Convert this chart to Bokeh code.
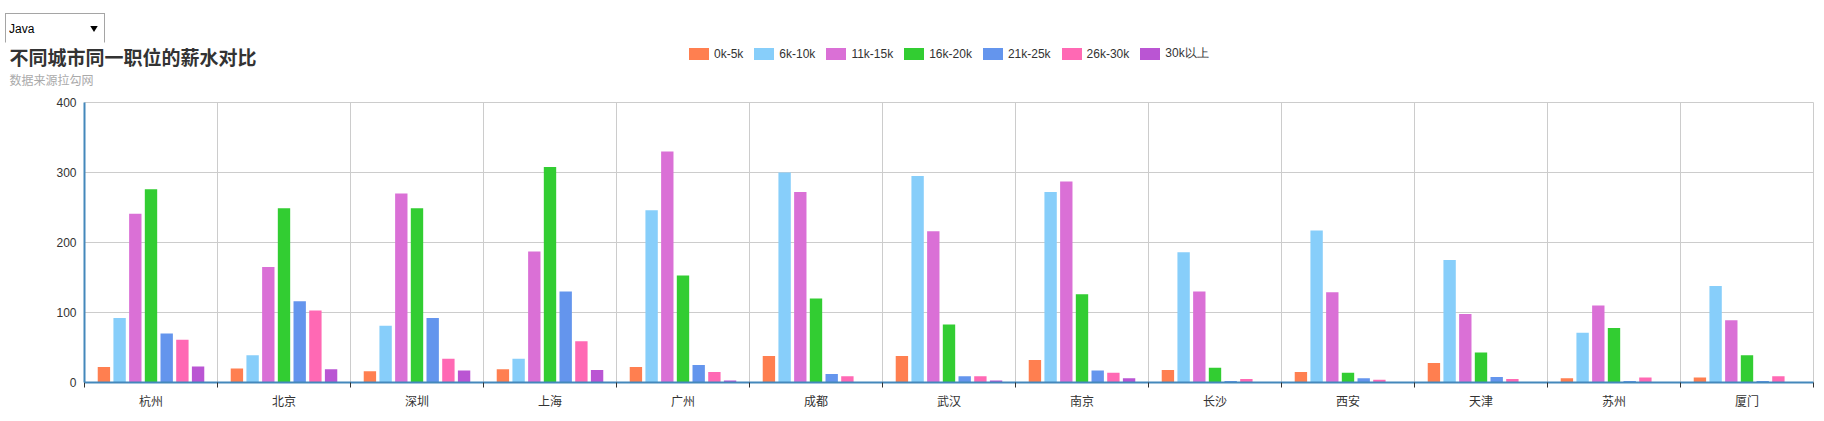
from bokeh.plotting import figure
from bokeh.models import (ColumnDataSource, Range1d, FixedTicker, Legend, LegendItem,
                          Label, Select, InlineStyleSheet)
from bokeh.layouts import column, row
from bokeh.embed import file_html
from bokeh.resources import INLINE

# ---------------- data ----------------
languages = ["Java"]
cities = ["杭州", "北京", "深圳", "上海", "广州", "成都", "武汉", "南京", "长沙", "西安", "天津", "苏州", "厦门"]
series_names = ["0k-5k", "6k-10k", "11k-15k", "16k-20k", "21k-25k", "26k-30k", "30k以上"]
s_0_5 = [22, 20, 16, 19, 22, 38, 38, 32, 18, 15, 28, 6, 7]
s_6_10 = [92, 39, 81, 34, 246, 300, 295, 272, 186, 217, 175, 71, 138]
s_11_15 = [241, 165, 270, 187, 330, 272, 216, 287, 130, 129, 98, 110, 89]
s_16_20 = [276, 249, 249, 308, 153, 120, 83, 126, 21, 14, 43, 78, 39]
s_21_25 = [70, 116, 92, 130, 25, 12, 9, 17, 2, 6, 8, 2, 2]
s_26_30 = [61, 103, 34, 59, 15, 9, 9, 14, 5, 4, 5, 7, 9]
s_30up = [23, 19, 17, 18, 3, 0, 3, 6, 0, 0, 0, 0, 0]
series_values = [s_0_5, s_6_10, s_11_15, s_16_20, s_21_25, s_26_30, s_30up]
y_ticks = [0, 100, 200, 300, 400]
title_text = "不同城市同一职位的薪水对比"
subtitle_text = "数据来源拉勾网"

colors = ["#ff7f50", "#87cefa", "#da70d6", "#32cd32", "#6495ed", "#ff69b4", "#ba55d3"]

W = 1816
HEAD_H = 48

# ---------------- header (title, subtitle, legend) ----------------
head = figure(width=W, height=HEAD_H, output_backend="svg", toolbar_location=None,
              x_range=Range1d(0, W), y_range=Range1d(0, HEAD_H),
              x_axis_type=None, y_axis_type=None,
              min_border=0, min_border_left=0, min_border_right=0,
              min_border_top=0, min_border_bottom=0,
              background_fill_color="white", border_fill_color="white")
head.grid.visible = False
head.outline_line_color = None

head.add_layout(Label(x=9, y=34, x_units="screen", y_units="screen", text=title_text,
                      text_font="Noto Sans CJK SC", text_font_size="19px", text_font_style="bold",
                      text_color="#333333", text_baseline="middle", text_align="left"))
head.add_layout(Label(x=9, y=11, x_units="screen", y_units="screen", text=subtitle_text,
                      text_font="Noto Sans CJK SC", text_font_size="12px",
                      text_color="#aaaaaa", text_baseline="middle", text_align="left"))

# legend keys: zero-height bars placed outside the header's visible range
swatches = []
for j, name in enumerate(series_names):
    r = head.vbar(x=[-100], top=[0], width=1, fill_color=colors[j], line_color=None)
    swatches.append(r)
legend = Legend(items=[LegendItem(label=nm, renderers=[r], index=0) for nm, r in zip(series_names, swatches)],
                orientation="horizontal", location=(686, 28),
                glyph_width=25, glyph_height=15, label_standoff=3, spacing=8,
                padding=0, margin=0, border_line_color=None, background_fill_alpha=0,
                label_text_font="Liberation Sans", label_text_font_size="12px",
                label_text_color="#333333", label_height=15)
head.add_layout(legend, "center")

# ---------------- main chart ----------------
n = len(cities)
idx = list(range(n))
boundaries = [i - 0.5 for i in range(n + 1)]

p = figure(width=W, height=328, output_backend="svg", toolbar_location=None,
           x_range=Range1d(-0.5, n - 0.5), y_range=Range1d(0, 400),
           min_border_left=84, min_border_right=3, min_border_top=12, min_border_bottom=36,
           background_fill_color="white", border_fill_color="white")
p.outline_line_color = "#cccccc"

pitch = 0.118
bar_w = 0.093
for j, vals in enumerate(series_values):
    src = ColumnDataSource(dict(x=[i + (j - 3) * pitch for i in idx], top=vals))
    p.vbar(x="x", top="top", width=bar_w, source=src, fill_color=colors[j], line_color=None)

xa = p.xaxis[0]
xa.ticker = FixedTicker(ticks=idx, minor_ticks=boundaries)
xa.major_label_overrides = {i: c for i, c in zip(idx, cities)}
xa.major_tick_line_color = None
xa.major_tick_out = 0
xa.minor_tick_out = 5
xa.minor_tick_in = 0
xa.minor_tick_line_color = "#333333"
xa.axis_line_color = "#4488bb"
xa.axis_line_width = 2
xa.major_label_text_font = "Noto Sans CJK SC"
xa.major_label_text_font_size = "12px"
xa.major_label_text_color = "#333333"
xa.major_label_standoff = 4

ya = p.yaxis[0]
ya.ticker = FixedTicker(ticks=y_ticks)
ya.major_tick_line_color = None
ya.minor_tick_line_color = None
ya.major_tick_out = 0
ya.axis_line_color = "#4488bb"
ya.axis_line_width = 2
ya.major_label_text_font = "Liberation Sans"
ya.major_label_text_font_size = "12px"
ya.major_label_text_color = "#333333"
ya.major_label_standoff = 8

p.xgrid.ticker = FixedTicker(ticks=boundaries)
p.xgrid.grid_line_color = "#cccccc"
p.ygrid.grid_line_color = "#cccccc"

select_css = InlineStyleSheet(css="""
select, .bk-input {
  font-weight: normal !important;
  font-family: 'Liberation Sans', Arial, sans-serif !important;
  font-size: 12px !important;
  color: #000 !important;
  border-radius: 0 !important;
  border: 1px solid #a5a5a5 !important;
  padding-left: 3px !important;
}
""")
select = Select(options=languages, value=languages[0], width=100, height=29,
                margin=(13, 0, 0, 5), stylesheets=[select_css])

# wrap the header in its own row so that its frame is not aligned with the chart's frame
layout = column(select, row(head), p)
open("out.html", "w").write(file_html(layout, INLINE))
